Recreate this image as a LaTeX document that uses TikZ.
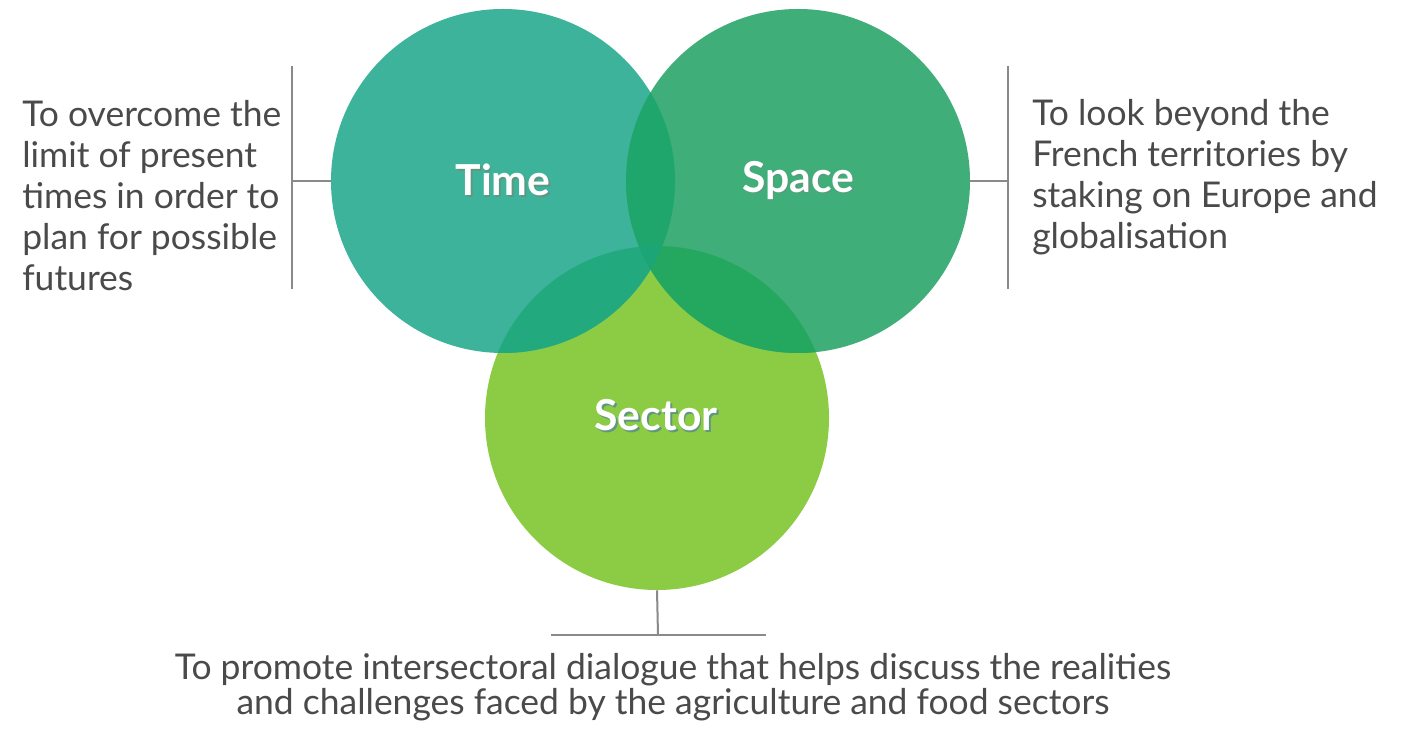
\documentclass[tikz,border=0pt]{standalone}
\usepackage{fontspec}
\setmainfont{Lato}
\definecolor{timec}{HTML}{3CB39A}
\definecolor{spacec}{HTML}{3FAE78}
\definecolor{sectorc}{HTML}{8CCB44}
\definecolor{tsc}{HTML}{1FA66C}
\definecolor{tsec}{HTML}{23A97E}
\definecolor{ssec}{HTML}{24A85F}
\definecolor{allc}{HTML}{1CA677}
\definecolor{txtc}{HTML}{4A4A4A}
\definecolor{linec}{HTML}{8A8A8A}
\definecolor{shadc}{HTML}{1E6B4A}
\newcommand\shadtext[1]{\makebox[0pt][l]{\hspace{1.3pt}\raisebox{-1.3pt}{\textcolor{shadc!70}{#1}}}\textcolor{white}{#1}}
\tikzset{
  venn/.style={circle, inner sep=0pt, minimum size=258pt},
  lbl/.style={font=\fontsize{32}{38}\selectfont\bfseries},
  desc/.style={text=txtc, inner sep=0pt, font=\fontsize{26.6}{30.75}\selectfont},
  conn/.style={draw=linec, line width=1.5pt},
}
\begin{document}
\begin{tikzpicture}[x=0.75pt,y=-0.75pt]
\useasboundingbox (0,0) rectangle (1409,730);
\fill[white] (0,0) rectangle (1409,730);
% circle nodes
\node[venn, fill=sectorc] (sector) at (657,418) {};
\node[venn, fill=timec] (time) at (503,181) {};
\node[venn, fill=spacec] (space) at (798,181) {};
% overlaps
\begin{scope}
  \clip (503,181) circle[radius=172];
  \fill[tsec] (657,418) circle[radius=172];
\end{scope}
\begin{scope}
  \clip (798,181) circle[radius=172];
  \fill[ssec] (657,418) circle[radius=172];
\end{scope}
\begin{scope}
  \clip (503,181) circle[radius=172];
  \fill[tsc] (798,181) circle[radius=172];
\end{scope}
\begin{scope}
  \clip (503,181) circle[radius=172];
  \clip (798,181) circle[radius=172];
  \fill[allc] (657,418) circle[radius=172];
\end{scope}
% labels
\node[lbl] (timel) at (503,181) {\shadtext{Time}};
\node[lbl] (spacel) at (798,181) {\shadtext{Space}};
\node[lbl] (sectorl) at (656,416) {\shadtext{Sector}};
% connectors
\coordinate (lt) at (292,66);
\coordinate (lb) at (292,289);
\coordinate (lm) at (292,181);
\draw[conn] (lt) -- (lb);
\draw[conn] (lm) -- (time.west);
\coordinate (rt) at (1008,66);
\coordinate (rb) at (1008,289);
\coordinate (rm) at (1008,181);
\draw[conn] (rt) -- (rb);
\draw[conn] (space.east) -- (rm);
\coordinate (bl) at (551,635);
\coordinate (br) at (766,635);
\coordinate (bm) at (658,635);
\draw[conn] (sector.south) -- (bm);
\draw[conn] (bl) -- (br);
% descriptions
\node[desc, align=left, anchor=north west] (ltext) at (22,100) {To overcome the\\limit of present\\times in order to\\plan for possible\\futures};
\node[desc, align=left, anchor=north west] (rtext) at (1032,99) {To look beyond the\\French territories by\\staking on Europe and\\globalisation};
\node[desc, anchor=north] (btext) at (673,651) {\begin{tabular}{@{}c@{}}To promote intersectoral dialogue that helps discuss the realities\\[-4.5pt]and challenges faced by the agriculture and food sectors\end{tabular}};
\end{tikzpicture}
\end{document}
